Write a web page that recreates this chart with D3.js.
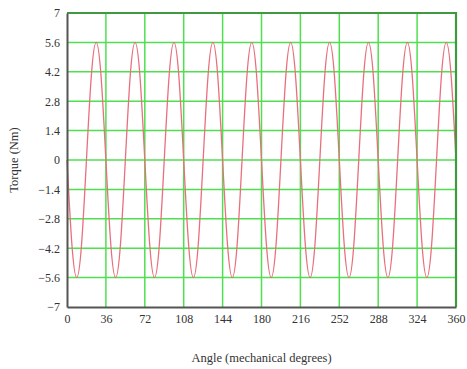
<!DOCTYPE html>
<html>
<head>
<meta charset="utf-8">
<script src="https://cdn.jsdelivr.net/npm/d3@7"></script>
<style>
    body { margin: 0; background: #fff; }
    text { font-family: "Liberation Serif", "DejaVu Serif", serif; fill: #333; }
</style>
</head>
<body>
<script>
// data (angle in mechanical degrees, torque in Nm)
const angles = [
    0, 4.5, 9, 13.5, 18, 22.5, 27, 31.5,
    36, 40.5, 45, 49.5, 54, 58.5, 63, 67.5,
    72, 76.5, 81, 85.5, 90, 94.5, 99, 103.5,
    108, 112.5, 117, 121.5, 126, 130.5, 135, 139.5,
    144, 148.5, 153, 157.5, 162, 166.5, 171, 175.5,
    180, 184.5, 189, 193.5, 198, 202.5, 207, 211.5,
    216, 220.5, 225, 229.5, 234, 238.5, 243, 247.5,
    252, 256.5, 261, 265.5, 270, 274.5, 279, 283.5,
    288, 292.5, 297, 301.5, 306, 310.5, 315, 319.5,
    324, 328.5, 333, 337.5, 342, 346.5, 351, 355.5,
    360
];
const torque = [
    0, -4.0, -5.6, -4.0, 0, 4.0, 5.6, 4.0,
    0, -4.0, -5.6, -4.0, 0, 4.0, 5.6, 4.0,
    0, -4.0, -5.6, -4.0, 0, 4.0, 5.6, 4.0,
    0, -4.0, -5.6, -4.0, 0, 4.0, 5.6, 4.0,
    0, -4.0, -5.6, -4.0, 0, 4.0, 5.6, 4.0,
    0, -4.0, -5.6, -4.0, 0, 4.0, 5.6, 4.0,
    0, -4.0, -5.6, -4.0, 0, 4.0, 5.6, 4.0,
    0, -4.0, -5.6, -4.0, 0, 4.0, 5.6, 4.0,
    0, -4.0, -5.6, -4.0, 0, 4.0, 5.6, 4.0,
    0, -4.0, -5.6, -4.0, 0, 4.0, 5.6, 4.0,
    0
];
const xTicks = [0, 36, 72, 108, 144, 180, 216, 252, 288, 324, 360];
const yTicks = [-7, -5.6, -4.2, -2.8, -1.4, 0, 1.4, 2.8, 4.2, 5.6, 7];

function init() {
    const w = 467;
    const h = 369;
    const left = 67, right = 456, top = 13, bottom = 307;

    const svg = d3.select('body')
    .append('svg')
        .attr("width", w)
        .attr("height", h);

    const xScale = d3.scaleLinear().domain([0, 360]).range([left, right]);
    const yScale = d3.scaleLinear().domain([-7, 7]).range([bottom, top]);

    // grid
    svg.append('g')
        .selectAll('line')
        .data(xTicks.slice(1, -1))
        .enter()
        .append('line')
            .attr("x1", d => xScale(d)).attr("x2", d => xScale(d))
            .attr("y1", top).attr("y2", bottom)
            .attr("stroke", "#4fe04f")
            .attr("stroke-width", 1.5);
    svg.append('g')
        .selectAll('line')
        .data(yTicks.slice(1, -1))
        .enter()
        .append('line')
            .attr("y1", d => yScale(d)).attr("y2", d => yScale(d))
            .attr("x1", left).attr("x2", right)
            .attr("stroke", "#4fe04f")
            .attr("stroke-width", 1.5);

    // curve
    const points = angles.map((a, i) => [a, torque[i]]);
    svg.append('path')
        .datum(points)
        .attr("fill", "none")
        .attr("stroke", "#e8707c")
        .attr("stroke-width", 1.3)
        .attr("d", d3.line()
            .x(d => xScale(d[0]))
            .y(d => yScale(d[1]))
            .curve(d3.curveNatural));

    // frame: top/right green, left/bottom dark
    svg.append('path')
        .attr("d", `M${left},${top}H${right}V${bottom}`)
        .attr("fill", "none")
        .attr("stroke", "#3f9a3f")
        .attr("stroke-width", 2.2);

    const xAxis = d3.axisBottom(xScale).tickValues(xTicks).tickSize(0).tickPadding(7);
    const yAxis = d3.axisLeft(yScale).tickValues(yTicks).tickSize(0).tickPadding(7)
        .tickFormat(d => d < 0 ? "\u2212" + Math.abs(d) : String(d));

    const gx = svg.append('g')
        .attr("transform", "translate(0," + bottom + ")")
        .call(xAxis);
    const gy = svg.append('g')
        .attr("transform", "translate(" + left + ",0)")
        .call(yAxis);
    [gx, gy].forEach(g => {
        g.select('.domain').attr("stroke", "#555").attr("stroke-width", 2);
        g.selectAll('text').style("font-size", "12px").attr("fill", "#333")
            .style("font-family", '"Liberation Serif", serif');
    });

    svg.append('text')
        .attr("x", (left + right) / 2)
        .attr("y", 362)
        .attr("text-anchor", "middle")
        .style("font-size", "12.5px")
        .text("Angle (mechanical degrees)");

    svg.append('text')
        .attr("transform", "translate(18," + ((top + bottom) / 2) + ") rotate(-90)")
        .attr("text-anchor", "middle")
        .style("font-size", "12.5px")
        .text("Torque (Nm)");
}

window.onload = init;
</script>
</body>
</html>
